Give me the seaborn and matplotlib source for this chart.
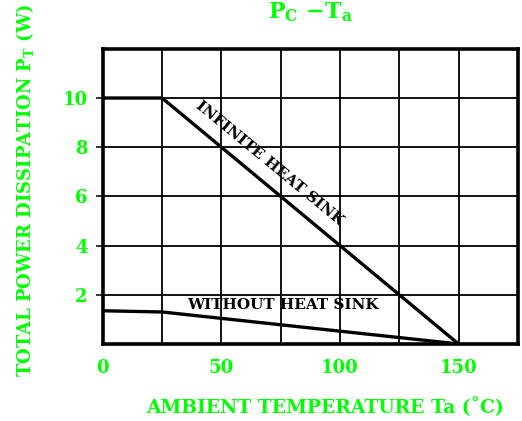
import matplotlib
matplotlib.use("Agg")
import matplotlib.pyplot as plt
import seaborn as sns
import pandas as pd

# Derating curves: ambient temperature (°C) vs total power dissipation (W)
infinite_temp = [0, 25, 150]
infinite_power = [10, 10, 0]
no_sink_temp = [0, 25, 150]
no_sink_power = [1.35, 1.3, 0]

x_ticks = [0, 50, 100, 150]
y_ticks = [2, 4, 6, 8, 10]
x_grid = [25, 50, 75, 100, 125, 150]
y_grid = [2, 4, 6, 8, 10]

sns.set_style("white")
plt.rcParams["font.family"] = ["DejaVu Serif"]
plt.rcParams["mathtext.fontset"] = "dejavuserif"

GREEN = "#00ff00"

df = pd.concat([
    pd.DataFrame({"Ta": infinite_temp, "P": infinite_power, "curve": "INFINITE HEAT SINK"}),
    pd.DataFrame({"Ta": no_sink_temp, "P": no_sink_power, "curve": "WITHOUT HEAT SINK"}),
])

fig = plt.figure(figsize=(5.22, 4.21), dpi=100)
ax = fig.add_axes([0.197, 0.183, 0.795, 0.701])

for gx in x_grid:
    ax.axvline(gx, color="black", lw=1.3, zorder=1)
for gy in y_grid:
    ax.axhline(gy, color="black", lw=1.3, zorder=1)

sns.lineplot(data=df, x="Ta", y="P", units="curve", estimator=None,
             color="black", lw=2.4, ax=ax, zorder=3, legend=False)

ax.set_xlim(0, 175)
ax.set_ylim(0, 12)
ax.set_xticks(x_ticks)
ax.set_yticks(y_ticks)
ax.tick_params(axis="x", length=0, pad=11, labelsize=13, labelcolor=GREEN)
ax.tick_params(axis="y", length=5, width=1.3, direction="out", pad=6,
               labelsize=13, labelcolor=GREEN, left=True)
for lab in ax.get_xticklabels() + ax.get_yticklabels():
    lab.set_fontweight("bold")

for sp in ax.spines.values():
    sp.set_linewidth(2.6)
    sp.set_color("black")

ax.set_xlabel("AMBIENT TEMPERATURE Ta (˚C)", color=GREEN, fontsize=13.5,
              fontweight="bold")
ax.xaxis.label.set_va("center")
ax.xaxis.set_label_coords(0.535, -0.213)
ax.set_ylabel(r"TOTAL POWER DISSIPATION P$_\mathbf{T}$ (W)", color=GREEN,
              fontsize=13, fontweight="bold")
ax.yaxis.label.set_va("center")
ax.yaxis.set_label_coords(-0.188, 0.52)
ax.set_title(r"$\mathbf{P_C}$ $\mathbf{-T_a}$", color=GREEN, fontsize=16,
             fontweight="bold", pad=22)

ax.text(76, 1.6, "WITHOUT HEAT SINK", fontsize=11, fontweight="bold",
        color="black", ha="center", va="center", zorder=4)
ax.text(70.5, 7.35, "INFINITE HEAT SINK", fontsize=11, fontweight="bold",
        color="black", ha="center", va="center", rotation=-39.5,
        rotation_mode="anchor", zorder=4)

fig.savefig("out.png", dpi=100)
